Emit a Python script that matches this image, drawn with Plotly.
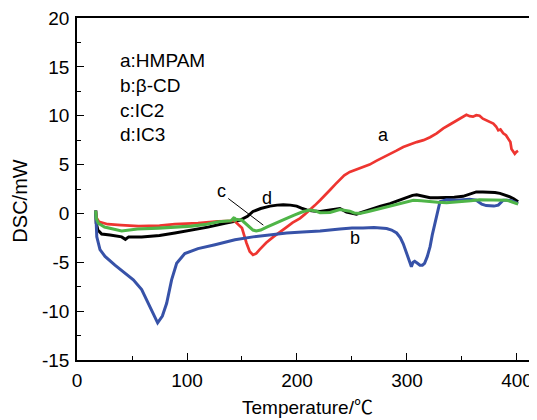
import plotly.graph_objects as go

# ---- data ----
a_x = [17, 18, 20, 28, 40, 56, 75, 89, 110, 128, 143, 150, 154, 157, 160, 163, 166, 172, 178.5, 185,
       190.6, 196, 202.7, 207, 212, 216, 221, 226, 230, 235, 239, 243, 248, 254, 260, 266, 272.5, 278,
       284.5, 290, 296.6, 303, 308.8, 315, 321, 327, 333, 339, 345, 350, 354, 357, 360, 363, 366, 369,
       372.5, 375, 378.5, 381, 383, 385, 387.5, 390, 392, 394, 395, 397, 398, 399.5, 401]
a_y = [0.3, -0.5, -0.85, -1.1, -1.2, -1.3, -1.25, -1.1, -1.0, -0.8, -0.75, -1.5, -3.0, -3.9, -4.25,
       -4.1, -3.7, -3.0, -2.4, -1.9, -1.4, -0.95, -0.5, -0.1, 0.35, 0.8, 1.35, 1.9, 2.4, 3.0, 3.45, 3.9,
       4.25, 4.5, 4.75, 5.0, 5.4, 5.7, 6.1, 6.4, 6.8, 7.1, 7.3, 7.5, 7.8, 8.2, 8.7, 9.1, 9.5, 9.9, 10.1,
       9.95, 9.9, 10.05, 10.0, 9.7, 9.5, 9.35, 9.2, 8.9, 8.5, 8.6, 8.2, 8.0, 7.65, 7.3, 6.6, 6.3, 6.1,
       6.3, 6.4]

b_x = [17, 17.3, 18, 20.9, 25.5, 34.5, 43.6, 51.2, 58.8, 64.8, 69.4, 73.3, 77.6, 81.5, 86, 90.6, 98,
       110, 125.5, 143.6, 160, 175, 190.6, 205, 221, 239, 250, 260, 270, 281.5, 286, 290.6, 294, 296.6,
       299, 301, 303, 304, 305.5, 307, 309.5, 311.8, 314, 316, 318.5, 321, 323, 325.5, 328, 330, 336,
       345, 351, 357, 363, 366, 368, 372, 375.5, 379, 383, 385.5, 387.5, 391, 395, 398, 401]
b_y = [0.3, -1.0, -2.4, -3.7, -4.4, -5.3, -6.1, -6.8, -7.8, -9.2, -10.4, -11.2, -10.5, -9.2, -6.8,
       -5.1, -4.1, -3.6, -3.2, -2.7, -2.4, -2.2, -2.0, -1.9, -1.8, -1.6, -1.5, -1.5, -1.45, -1.55, -1.7,
       -2.0, -2.5, -3.1, -3.8, -4.4, -5.0, -5.45, -5.0, -4.9, -5.1, -5.3, -5.3, -5.1, -4.4, -3.4, -2.2,
       -1.0, 0.2, 1.2, 1.4, 1.35, 1.4, 1.45, 1.35, 1.1, 0.95, 0.8, 0.75, 0.75, 0.85, 1.1, 1.35, 1.35,
       1.3, 1.15, 1.0]

c_x = [17, 17.5, 19.4, 25, 40.6, 55, 74, 90, 104, 118, 128.5, 140, 143, 143.6, 145, 150, 154, 157,
       160, 163, 167, 172.5, 180, 190.6, 198, 205.7, 212, 217, 221, 230, 239, 244, 248, 252, 257, 265,
       275, 283, 290.6, 298, 305.7, 313, 321, 328, 336, 343, 351, 358, 366, 374, 381.5, 386, 390.6,
       395, 398, 401]
c_y = [0.3, -0.5, -1.0, -1.4, -1.8, -1.6, -1.5, -1.4, -1.3, -1.1, -0.85, -0.75, -0.4, -0.7, -0.6,
       -0.7, -1.1, -1.5, -1.7, -1.8, -1.7, -1.4, -1.0, -0.5, -0.15, 0.2, 0.35, 0.25, 0.07, 0.1, 0.4,
       0.35, 0.23, 0.05, 0.0, 0.2, 0.5, 0.75, 0.95, 1.2, 1.35, 1.3, 1.2, 1.15, 1.1, 1.15, 1.2, 1.3,
       1.4, 1.4, 1.4, 1.4, 1.35, 1.2, 1.05, 0.95]

d_x = [17, 17.5, 19, 22.4, 30, 40.6, 44, 47, 58.8, 75, 89, 105, 119, 134.5, 148, 155, 160, 167, 175.5,
       182, 187.5, 194, 199.7, 204, 208.8, 215, 221, 227, 233, 239, 245, 250, 254, 260, 269, 276, 284.5,
       292, 299.7, 305, 308.8, 315, 321, 328, 336, 343, 351, 357, 363, 369, 375.5, 380, 384.5, 389,
       393.6, 397, 401]
d_y = [0.3, -1.0, -1.7, -2.1, -2.2, -2.4, -2.65, -2.4, -2.4, -2.25, -2.0, -1.7, -1.4, -1.0, -0.7,
       -0.3, 0.2, 0.5, 0.75, 0.85, 0.9, 0.85, 0.75, 0.55, 0.35, 0.25, 0.2, 0.3, 0.4, 0.5, 0.15, 0.0,
       -0.07, 0.15, 0.5, 0.75, 1.0, 1.3, 1.6, 1.85, 1.9, 1.75, 1.6, 1.6, 1.6, 1.65, 1.75, 2.0, 2.2, 2.2,
       2.2, 2.15, 2.05, 1.9, 1.7, 1.5, 1.2]

legend_lines = ["a:HMPAM", "b:β-CD", "c:IC2", "d:IC3"]
legend_y = [15.6, 13.05, 10.5, 8.05]

x_ticks = [0, 100, 200, 300, 400]
x_ticktext = ["0", "100", "200", "300", "400"]
y_ticks = [-15, -10, -5, 0, 5, 10, 15, 20]
y_ticktext = ["-15", "-10", "-5", "0", "5", "10", "15", "20"]

FONT = "Liberation Sans, Arial, sans-serif"

fig = go.Figure()
fig.add_trace(go.Scatter(x=d_x, y=d_y, mode="lines", line=dict(color="#000000", width=3)))
fig.add_trace(go.Scatter(x=a_x, y=a_y, mode="lines", line=dict(color="#ee3530", width=2.7)))
fig.add_trace(go.Scatter(x=b_x, y=b_y, mode="lines", line=dict(color="#3752a8", width=3)))
fig.add_trace(go.Scatter(x=c_x, y=c_y, mode="lines", line=dict(color="#4fb548", width=3.1)))

axis_common = dict(showgrid=False, zeroline=False, showline=True, linecolor="black", linewidth=1.5,
                   ticks="inside", ticklen=7, tickwidth=1.3, tickcolor="black",
                   ticklabeloverflow="allow", ticklabelstandoff=2,
                   tickfont=dict(family=FONT, size=19, color="black"))

fig.update_xaxes(range=[0, 418.2], tickvals=x_ticks, ticktext=x_ticktext, mirror=True,
                 minor=dict(ticks="inside", dtick=50, ticklen=4, tickwidth=1.3, tickcolor="black"),
                 **axis_common)
fig.update_yaxes(range=[-15, 20], tickvals=y_ticks, ticktext=y_ticktext,
                 minor=dict(ticks="inside", dtick=2.5, ticklen=4, tickwidth=1.3, tickcolor="black"),
                 **axis_common)

ann = []
for txt, yy in zip(legend_lines, legend_y):
    ann.append(dict(x=37.3, y=yy, xref="x", yref="y", text=txt, showarrow=False, xanchor="left",
                    yanchor="middle", font=dict(family=FONT, size=19, color="black")))
for txt, xx, yy in [("a", 278.5, 8.0), ("b", 252.7, -2.55), ("c", 131, 2.27), ("d", 172.4, 1.53)]:
    ann.append(dict(x=xx, y=yy, xref="x", yref="y", text=txt, showarrow=False,
                    xanchor="center", yanchor="middle",
                    font=dict(family=FONT, size=18, color="black")))
ann.append(dict(x=-0.1246, y=0.465, xref="paper", yref="paper", text="DSC/mW", textangle=-90,
                xanchor="center", yanchor="middle",
                showarrow=False, font=dict(family=FONT, size=20, color="black")))
ann.append(dict(x=0.502, y=-0.133, xref="paper", yref="paper",
                text='Temperature/<span style="font-family:Noto Sans CJK SC">℃</span>',
                xanchor="center", yanchor="middle",
                showarrow=False, font=dict(family=FONT, size=19, color="black")))

fig.add_shape(type="line", xref="x", yref="y", x0=137.5, y0=1.53, x1=169.4, y1=-1.2,
              line=dict(color="black", width=1))

# the page body adds an 8px offset; margins below place the plot area where the reference has it
fig.update_layout(width=529, height=412, margin=dict(l=69, r=0, t=10, b=60),
                  plot_bgcolor="white", paper_bgcolor="white", showlegend=False,
                  annotations=ann)

fig.write_html("out.html")
